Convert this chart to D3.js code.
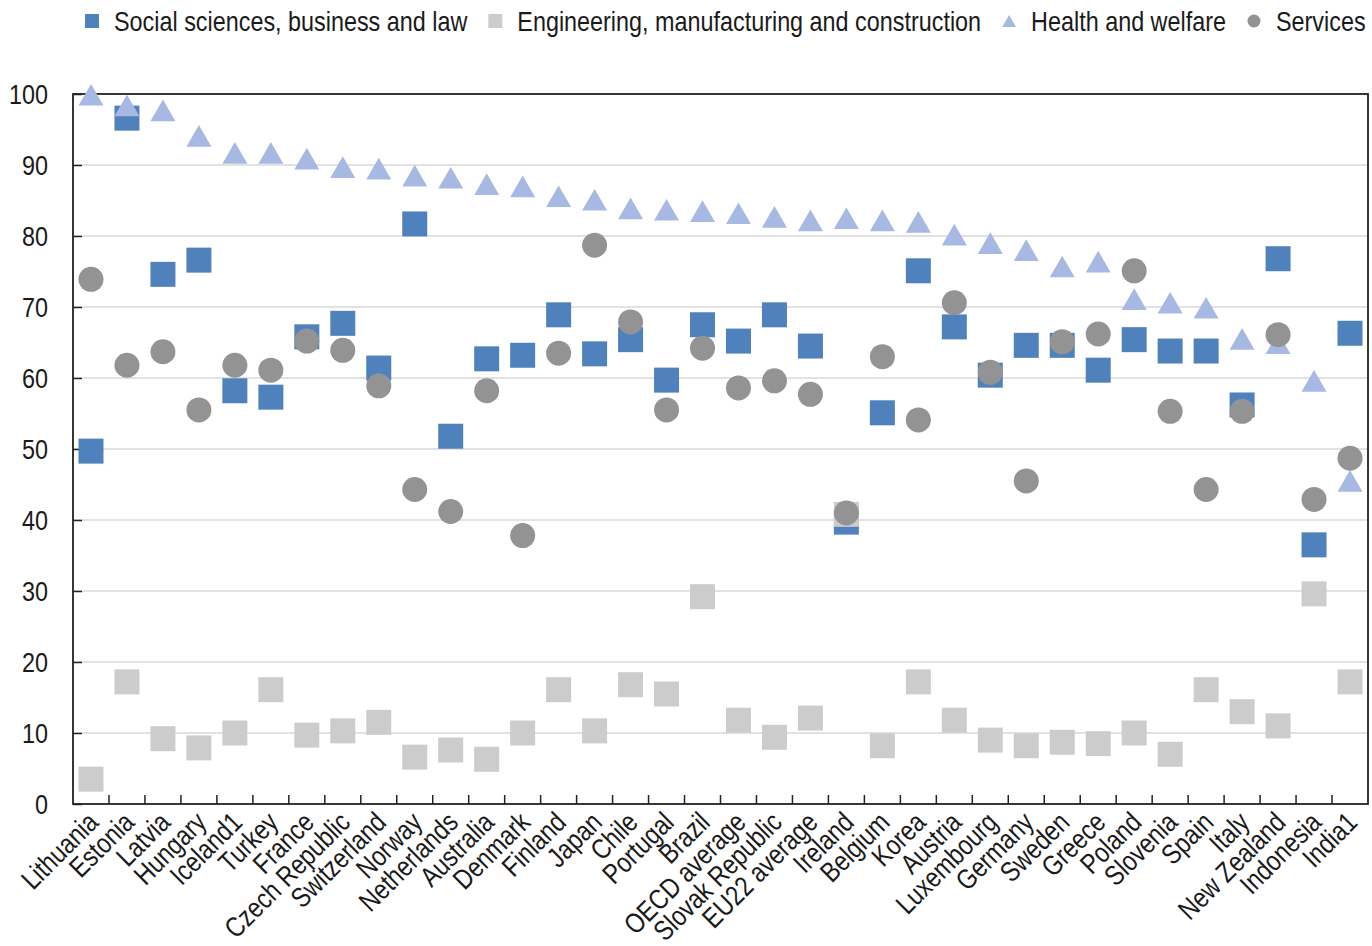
<!DOCTYPE html>
<html>
<head>
<meta charset="utf-8">
<script src="https://cdn.jsdelivr.net/npm/d3@7"></script>
<style>
  html, body { margin: 0; padding: 0; background: #fff; }
  svg text { font-family: "Liberation Sans Narrow", "Arial Narrow", "Liberation Sans", Arial, sans-serif; fill: #1a1a1a; }
</style>
</head>
<body>
<svg id="chart" width="1372" height="946"></svg>
<script>
const categories = ["Lithuania","Estonia","Latvia","Hungary","Iceland1","Turkey","France","Czech Republic","Switzerland","Norway","Netherlands","Australia","Denmark","Finland","Japan","Chile","Portugal","Brazil","OECD average","Slovak Republic","EU22 average","Ireland","Belgium","Korea","Austria","Luxembourg","Germany","Sweden","Greece","Poland","Slovenia","Spain","Italy","New Zealand","Indonesia","India1"];

const socialSciences = [49.7,96.6,74.6,76.6,58.2,57.3,65.8,67.7,61.4,81.7,51.8,62.7,63.2,68.9,63.4,65.4,59.7,67.5,65.2,68.9,64.5,39.7,55.1,75.1,67.2,60.4,64.6,64.6,61.1,65.4,63.8,63.8,56.2,76.8,36.5,66.3];
const engineering = [3.5,17.2,9.2,7.9,10.0,16.1,9.7,10.3,11.5,6.6,7.6,6.3,10.0,16.1,10.3,16.8,15.5,29.2,11.8,9.4,12.1,40.8,8.2,17.2,11.8,9.0,8.2,8.7,8.5,10.0,7.0,16.1,13.0,11.0,29.6,17.2];
const healthWelfare = [99.9,98.4,97.7,94.1,91.7,91.7,90.9,89.7,89.5,88.5,88.2,87.3,87.0,85.6,85.1,83.9,83.7,83.5,83.2,82.7,82.2,82.5,82.2,82.0,80.2,79.0,78.0,75.7,76.4,71.1,70.6,69.9,65.5,64.9,59.6,45.5];
const services = [73.9,61.8,63.7,55.5,61.8,61.1,65.2,63.9,58.9,44.3,41.2,58.2,37.8,63.5,78.7,67.9,55.5,64.2,58.6,59.6,57.7,41.0,63.0,54.1,70.6,60.8,45.5,65.1,66.2,75.1,55.3,44.3,55.3,66.1,42.9,48.7];

const seriesNames = ["Social sciences, business and law","Engineering, manufacturing and construction","Health and welfare","Services"];
const seriesColors = ["#4f81bd","#cccccc","#a7b9e3","#939393"];
const seriesShapes = ["square","square","triangle","circle"];
const yTicks = [0,10,20,30,40,50,60,70,80,90,100];

const FONT = 28, SX = 0.835; // emulate a narrow face
const svg = d3.select("#chart");
const margin = {left: 73, right: 4, top: 94, bottom: 142};
const W = 1372, H = 946;
const x = d3.scaleBand().domain(categories).range([margin.left, W - margin.right]);
const y = d3.scaleLinear().domain([0, 100]).range([H - margin.bottom, margin.top]);

// gridlines
svg.append("g").selectAll("line").data(yTicks.filter(d => d > 0 && d < 100)).join("line")
  .attr("x1", margin.left).attr("x2", W - margin.right)
  .attr("y1", d => y(d)).attr("y2", d => y(d))
  .attr("stroke", "#d9d9d9").attr("stroke-width", 1.5);

// frame
svg.append("rect").attr("x", margin.left).attr("y", y(100))
  .attr("width", W - margin.right - margin.left).attr("height", y(0) - y(100))
  .attr("fill", "none").attr("stroke", "#222").attr("stroke-width", 1.8);

// y axis (ticks inward)
const yAxis = svg.append("g").attr("transform", `translate(${margin.left},0)`)
  .call(d3.axisRight(y).tickValues(yTicks).tickSize(9).tickFormat(d3.format("d")));
yAxis.select(".domain").remove();
yAxis.selectAll(".tick line").attr("stroke", "#222").attr("stroke-width", 1.5);
yAxis.selectAll(".tick text").attr("x", null).attr("dy", null)
  .attr("transform", `translate(-25,0) scale(${SX},1)`)
  .attr("text-anchor", "end").attr("dy", "0.35em")
  .style("font-size", FONT + "px");

// x axis ticks at band boundaries (inward)
const boundaries = categories.slice(1).map(c => x(c));
svg.append("g").selectAll("line").data(boundaries).join("line")
  .attr("x1", d => d).attr("x2", d => d)
  .attr("y1", y(0)).attr("y2", y(0) - 9)
  .attr("stroke", "#222").attr("stroke-width", 1.5);

// x labels
svg.append("g").selectAll("text").data(categories).join("text")
  .attr("transform", d => `translate(${x(d) + x.bandwidth() / 2 + 9},${y(0) + 20}) rotate(-45) scale(${SX},1)`)
  .attr("text-anchor", "end")
  .style("font-size", FONT + "px")
  .text(d => d);

// markers
const triPath = (side) => {
  const h = side * Math.sqrt(3) / 2;
  return `M0,${-h / 2}L${side / 2},${h / 2}L${-side / 2},${h / 2}Z`;
};
const shapes = {
  square: d3.symbol().type(d3.symbolSquare).size(25 * 25)(),
  triangle: triPath(25),
  circle: d3.symbol().type(d3.symbolCircle).size(Math.PI * 12.5 * 12.5)()
};
const allSeries = [socialSciences, engineering, healthWelfare, services];
allSeries.forEach((vals, i) => {
  svg.append("g").selectAll("path").data(vals).join("path")
    .attr("d", shapes[seriesShapes[i]])
    .attr("transform", (v, j) => `translate(${x(categories[j]) + x.bandwidth() / 2},${y(v)})`)
    .attr("fill", seriesColors[i]);
});

// legend
const legendShapes = {
  square: d3.symbol().type(d3.symbolSquare).size(14 * 14)(),
  triangle: triPath(14),
  circle: d3.symbol().type(d3.symbolCircle).size(Math.PI * 6.5 * 6.5)()
};
let lx = 85;
const ly = 21;
seriesNames.forEach((name, i) => {
  const g = svg.append("g");
  g.append("path").attr("d", legendShapes[seriesShapes[i]])
    .attr("transform", `translate(${lx + 7},${ly})`).attr("fill", seriesColors[i]);
  const t = g.append("text").attr("transform", `translate(${lx + 29},${ly}) scale(${SX},1)`)
    .attr("dy", "0.35em")
    .style("font-size", FONT + "px").text(name);
  lx = lx + 29 + t.node().getComputedTextLength() * SX + 21;
});
</script>
</body>
</html>
